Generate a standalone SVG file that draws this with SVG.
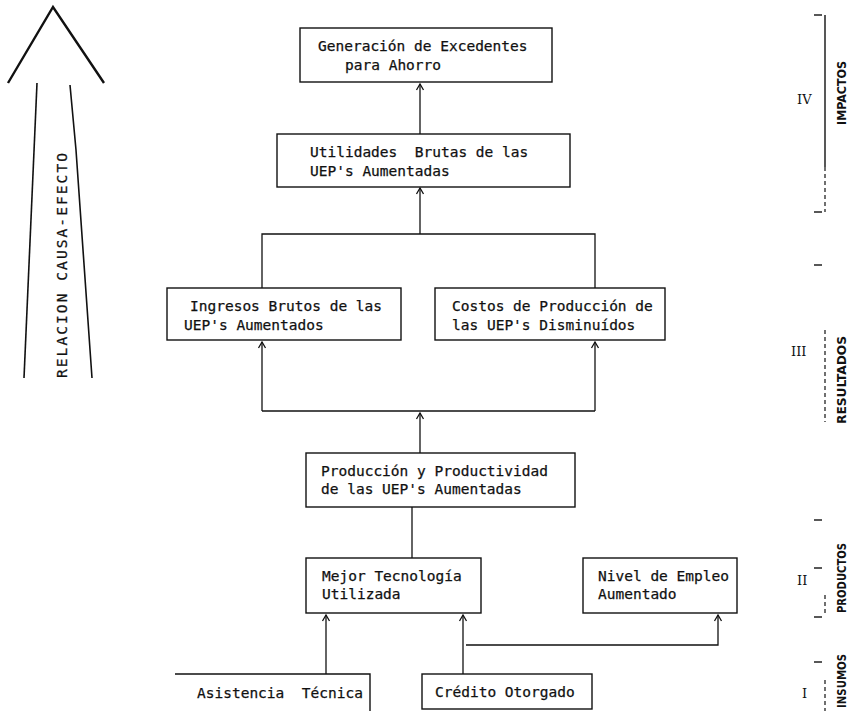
<svg xmlns="http://www.w3.org/2000/svg" width="849" height="711" viewBox="0 0 849 711">
<defs>
<marker id="ah" viewBox="-8 -5 9 10" refX="0" refY="0" markerWidth="9" markerHeight="10" markerUnits="userSpaceOnUse" orient="auto">
<path d="M-6,-3.5 L0,0 L-6,3.5" fill="none" stroke="#111" stroke-width="1.3"/>
</marker>
<style>
.box{fill:#fff;stroke:#111;stroke-width:1.4}
.t{font-family:"DejaVu Sans Mono","Liberation Mono",monospace;font-size:14.5px;fill:#111;stroke:#111;stroke-width:0.25}
.c{fill:none;stroke:#111;stroke-width:1.3}
.a{fill:none;stroke:#111;stroke-width:1.3;marker-end:url(#ah)}
.lab{font-family:"DejaVu Sans Condensed","DejaVu Sans",sans-serif;font-size:13px;font-weight:bold;fill:#111}
.rom{font-family:"DejaVu Serif","Liberation Serif",serif;font-size:13px;fill:#111}
.sc{fill:none;stroke:#111;stroke-width:1.4}
.scd{fill:none;stroke:#111;stroke-width:1.2;stroke-dasharray:4 3}
</style>
</defs>
<rect width="849" height="711" fill="#fff"/>

<g id="causa-efecto">
<polyline points="8,83 53,7 104,83" fill="none" stroke="#111" stroke-width="2.4"/>
<line x1="37" y1="83" x2="24" y2="378" stroke="#111" stroke-width="1.6"/>
<polyline points="70,85 76,150 92,378" fill="none" stroke="#111" stroke-width="1.6"/>
<text class="t" font-size="13" transform="translate(67,378) rotate(-90)" textLength="225" lengthAdjust="spacing">RELACION  CAUSA-EFECTO</text>
</g>

<g id="connectors">
<line class="a" x1="420" y1="134" x2="420" y2="84"/>
<line class="a" x1="420" y1="234" x2="420" y2="188"/>
<polyline class="c" points="262,288 262,234 595,234 595,288"/>
<polyline class="a" points="262,411 262,342"/>
<polyline class="a" points="595,411 595,342"/>
<line class="c" x1="262" y1="411" x2="595" y2="411"/>
<line class="a" x1="420" y1="453" x2="420" y2="413"/>
<line class="c" x1="412" y1="558" x2="412" y2="507"/>
<line class="a" x1="326" y1="674" x2="326" y2="615"/>
<line class="a" x1="463" y1="674" x2="463" y2="615"/>
<polyline class="a" points="466,645 718,645 718,615"/>
</g>

<g id="n1"><rect class="box" x="300" y="28" width="252" height="54"/>
<text class="t" x="318" y="51">Generación de Excedentes</text>
<text class="t" x="345" y="70">para Ahorro</text></g>

<g id="n2"><rect class="box" x="277" y="134" width="293" height="53"/>
<text class="t" x="310" y="157" xml:space="preserve">Utilidades  Brutas de las</text>
<text class="t" x="310" y="176">UEP's Aumentadas</text></g>

<g id="n3"><rect class="box" x="167" y="288" width="234" height="52"/>
<text class="t" x="190" y="311">Ingresos Brutos de las</text>
<text class="t" x="184" y="330">UEP's Aumentados</text></g>

<g id="n4"><rect class="box" x="435" y="288" width="230" height="52"/>
<text class="t" x="452" y="311">Costos de Producción de</text>
<text class="t" x="452" y="330">las UEP's Disminuídos</text></g>

<g id="n5"><rect class="box" x="306" y="453" width="269" height="54"/>
<text class="t" x="321" y="476">Producción y Productividad</text>
<text class="t" x="321" y="494">de las UEP's Aumentadas</text></g>

<g id="n6"><rect class="box" x="306" y="558" width="175" height="55"/>
<text class="t" x="322" y="581">Mejor Tecnología</text>
<text class="t" x="322" y="599">Utilizada</text></g>

<g id="n7"><rect class="box" x="583" y="558" width="154" height="55"/>
<text class="t" x="598" y="581">Nivel de Empleo</text>
<text class="t" x="598" y="599">Aumentado</text></g>

<g id="n8"><path class="box" fill="none" d="M175,674 H370 V711"/>
<text class="t" x="197" y="698" xml:space="preserve">Asistencia  Técnica</text></g>

<g id="n9"><rect class="box" x="422" y="674" width="170" height="35"/>
<text class="t" x="435" y="697">Crédito Otorgado</text></g>

<g id="scale">
<line class="sc" x1="825" y1="15" x2="825" y2="167"/>
<line class="scd" x1="825" y1="167" x2="825" y2="212"/>
<line class="sc" x1="814" y1="15" x2="822" y2="15"/>
<line class="sc" x1="814" y1="212" x2="822" y2="212"/>
<line class="sc" x1="814" y1="265" x2="822" y2="265"/>
<line class="scd" x1="825" y1="330" x2="825" y2="422"/>
<line class="sc" x1="814" y1="520" x2="822" y2="520"/>
<line class="sc" x1="814" y1="568" x2="822" y2="568"/>
<line class="scd" x1="825" y1="595" x2="825" y2="613"/>
<line class="sc" x1="814" y1="617" x2="822" y2="617"/>
<line class="sc" x1="814" y1="662" x2="822" y2="662"/>
<line class="scd" x1="825" y1="680" x2="825" y2="711"/>
<text class="lab" transform="translate(846,125) rotate(-90)" textLength="64" lengthAdjust="spacingAndGlyphs">IMPACTOS</text>
<text class="lab" transform="translate(846,424) rotate(-90)" textLength="88" lengthAdjust="spacingAndGlyphs">RESULTADOS</text>
<text class="lab" transform="translate(846,613) rotate(-90)" textLength="70" lengthAdjust="spacingAndGlyphs">PRODUCTOS</text>
<text class="lab" transform="translate(846,708) rotate(-90)" textLength="54" lengthAdjust="spacingAndGlyphs">INSUMOS</text>
<text class="rom" x="797" y="104">IV</text>
<text class="rom" x="791" y="356">III</text>
<text class="rom" x="797" y="585">II</text>
<text class="rom" x="802" y="698">I</text>
</g>
</svg>
